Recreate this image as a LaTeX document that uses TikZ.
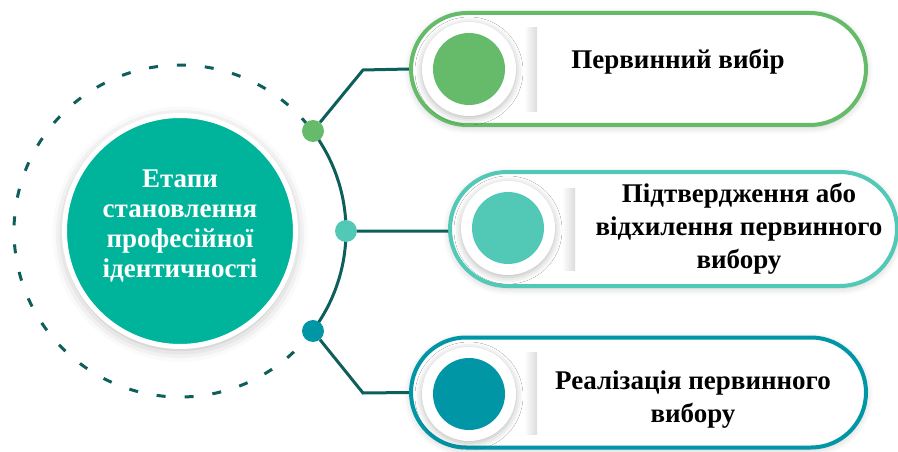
\documentclass[tikz,border=0pt]{standalone}
\usepackage{fontspec}
\setmainfont{Liberation Serif}
\usetikzlibrary{shapes.misc,shadows.blur}
\definecolor{leaf}{HTML}{66BB6A}
\definecolor{aqua}{HTML}{52C8B6}
\definecolor{lagoon}{HTML}{0096A6}
\definecolor{hubfill}{HTML}{00B49B}
\definecolor{pine}{HTML}{0E5E5C}
\tikzset{
    link/.style={draw=pine, line width=3pt},
    dot/.style={circle, minimum size=22pt, inner sep=0pt},
    stage/.style={rounded rectangle, fill=white, line width=4pt, inner sep=0pt, minimum width=455pt,
        blur shadow={shadow xshift=0pt, shadow yshift=-2pt, shadow blur radius=7pt, shadow opacity=22}},
    ring/.style={circle, fill=white, minimum size=94pt, inner sep=0pt,
        blur shadow={shadow xshift=0pt, shadow yshift=-2pt, shadow blur radius=7pt, shadow opacity=28}},
    core/.style={circle, minimum size=72pt, inner sep=0pt},
    stagetext/.style={font=\bfseries\fontsize{27}{33}\selectfont, align=center}
}
\begin{document}
\begin{tikzpicture}[x=1pt, y=-1pt]
    \useasboundingbox (0,0) rectangle (898,452);
    % ring round the hub
    \draw[pine, line width=3pt, dash pattern=on 9pt off 19pt] (180,231) ++(37:166) arc (37:323:166);
    \draw[pine, line width=3pt] (180,231) ++(-37:166) arc (-37:37:166);
    \node[circle, fill=hubfill, draw=white, line width=5pt, minimum size=231pt, inner sep=0pt,
        blur shadow={shadow xshift=0pt, shadow yshift=-3pt, shadow blur radius=12pt, shadow opacity=30}]
        (hub) at (180,231) {};
    \node[text=white, font=\bfseries\fontsize{27}{30}\selectfont, align=center] (ht) at (180,226)
        {Етапи\\становлення\\професійної\\ідентичності};
    \node[dot, fill=leaf] (d1) at (313,131) {};
    \node[dot, fill=aqua] (d2) at (346,231) {};
    \node[dot, fill=lagoon] (d3) at (313,331) {};
    \coordinate (k1) at (363,70);
    \coordinate (k3) at (363,393);
    % stages
    \node[stage, draw=leaf, minimum height=112pt] (b1) at (638.5,69) {};
    \node[stage, draw=aqua, minimum width=447pt, minimum height=114pt] (b2) at (673.5,229) {};
    \node[stage, draw=lagoon, minimum height=110pt] (b3) at (638.5,392.5) {};
    \shade[left color=white, right color=gray!28] (524,28) rectangle (537,112);
    \shade[left color=white, right color=gray!28] (562,188) rectangle (575,270);
    \shade[left color=white, right color=gray!28] (524,352) rectangle (537,434);
    \node[ring] (r1) at (469,69) {};
    \node[ring] (r2) at (508,228) {};
    \node[ring] (r3) at (469,394) {};
    \node[core, fill=leaf] (c1) at (r1) {};
    \node[core, fill=aqua] (c2) at (r2) {};
    \node[core, fill=lagoon] (c3) at (r3) {};
    \node[stagetext] (t1) at (678,62) {Первинний вибір};
    \node[stagetext] (t2) at (739,229) {Підтвердження або\\відхилення первинного\\вибору};
    \node[stagetext] (t3) at (693,400) {Реалізація первинного\\вибору};
    \draw[link] (d1) -- (k1) -- (b1.west) (d2) -- (b2.west |- d2) (d3) -- (k3) -- (b3.west);
\end{tikzpicture}
\end{document}
